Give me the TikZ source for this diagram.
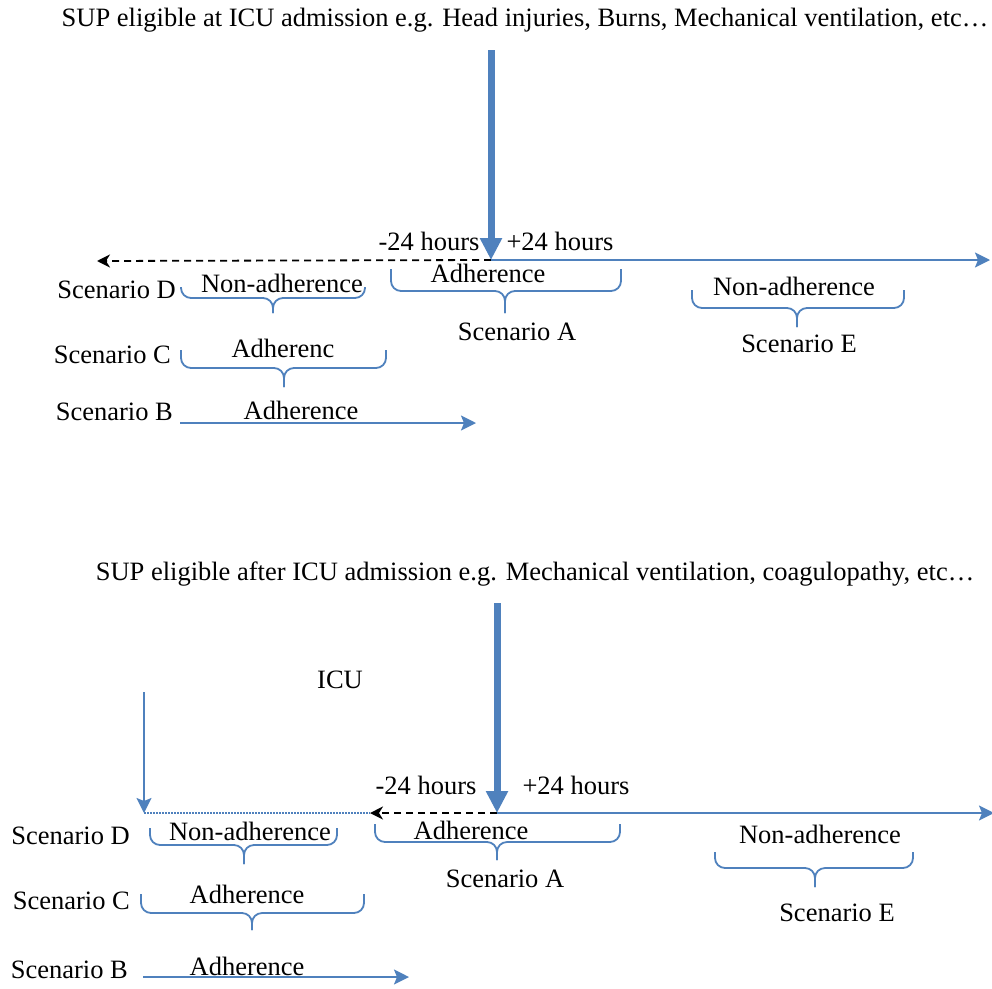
\documentclass[tikz,border=0pt]{standalone}
\usepackage{fontspec}
\setmainfont{Liberation Serif}
\usetikzlibrary{arrows.meta}
\definecolor{ob}{RGB}{79,129,189}
\newcommand\fs{\fontsize{26.5}{30}\selectfont}
\newcommand\obrace[6]{%
  \draw[brc] (#1,#4) -- (#1,#5) -- (#3,#5) -- (#3,#6);
  \draw[brc] (#2,#4) -- (#2,#5) -- (#3,#5) -- (#3,#6);}
\tikzset{
  txt/.style={font=\fs, inner sep=0pt, anchor=base},
  lbl/.style={font=\fs, inner sep=0pt, anchor=base east},
  thick arrow/.style={draw=ob, line width=7pt, -{Triangle[width=21pt,length=22pt]}},
  blue arrow/.style={draw=ob, line width=2pt, -{Stealth[width=15pt,length=15pt,inset=3pt]}},
  dash arrow/.style={draw=black, line width=1.8pt, dash pattern=on 7pt off 5pt, -{Stealth[width=13pt,length=13pt,inset=4pt]}},
  dot line/.style={draw=ob, line width=1.6pt, dash pattern=on 1.5pt off 1.5pt},
  brc/.style={draw=ob, line width=1.8pt, rounded corners=10pt},
}
\begin{document}
\begin{tikzpicture}[x=1pt,y=-1pt]
\useasboundingbox (0,0) rectangle (992,988);
% ---------------- top part ----------------
\node[txt] (t1) at (525,26) {SUP eligible at ICU admission e.g. Head injuries, Burns, Mechanical ventilation, etc…};
\coordinate (a1top) at (491,50);
\coordinate (a1) at (491,260);
\coordinate (a1r) at (990,260);
\coordinate (a1l) at (97,261);
\draw[dash arrow] (a1) -- (a1l);
\draw[blue arrow] (a1) -- (a1r);
\draw[thick arrow] (a1top) -- (a1);
\node[txt] (m24a) at (429,250) {-24 hours};
\node[txt] (p24a) at (560,250) {+24 hours};
% Scenario D
\node[lbl] (sDa) at (176,298) {Scenario D};
\obrace{181}{365}{273}{287}{298}{313}
\node[txt] (nDa) at (282,292) {Non-adherence};
% Scenario A
\obrace{391}{621}{505}{269}{291}{313}
\node[txt] (adA) at (488,282) {Adherence};
\node[txt] (sAa) at (517,340) {Scenario A};
% Scenario E
\obrace{692}{904}{797}{290}{308}{327}
\node[txt] (nEa) at (794,295) {Non-adherence};
\node[txt] (sEa) at (799,352) {Scenario E};
% Scenario C
\node[lbl] (sCa) at (171,363) {Scenario C};
\obrace{181}{386}{284}{350}{368}{387}
\node[txt] (adC) at (283,357) {Adherenc};
% Scenario B
\node[lbl] (sBa) at (173,420) {Scenario B};
\coordinate (bAs) at (180,423);
\coordinate (bAe) at (476,423);
\draw[blue arrow] (bAs) -- (bAe);
\node[txt] (adB) at (301,419) {Adherence};
% ---------------- bottom part ----------------
\node[txt] (t2) at (535,580) {SUP eligible after ICU admission e.g. Mechanical ventilation, coagulopathy, etc…};
\coordinate (a2top) at (497,603);
\coordinate (a2) at (497,813);
\coordinate (a2r) at (994,813);
\coordinate (a2l) at (370,813);
\coordinate (icuTop) at (144,692);
\coordinate (icu) at (144,813);
\node[txt] (icuL) at (340,688) {ICU};
\draw[dot line] (icu) -- (a2l);
\draw[dash arrow] (a2) -- (a2l);
\draw[blue arrow] (a2) -- (a2r);
\draw[thick arrow] (a2top) -- (a2);
\draw[blue arrow] (icuTop) -- (icu);
\node[txt] (m24b) at (426,794) {-24 hours};
\node[txt] (p24b) at (576,794) {+24 hours};
% Scenario D
\node[lbl] (sDb) at (130,844) {Scenario D};
\obrace{150}{337}{244}{828}{845}{864}
\node[txt] (nDb) at (250,840) {Non-adherence};
% Scenario A
\obrace{375}{620}{497}{824}{842}{860}
\node[txt] (adAb) at (471,839) {Adherence};
\node[txt] (sAb) at (505,887) {Scenario A};
% Scenario E
\obrace{715}{913}{815}{852}{868}{887}
\node[txt] (nEb) at (820,843) {Non-adherence};
\node[txt] (sEb) at (837,921) {Scenario E};
% Scenario C
\node[lbl] (sCb) at (130,909) {Scenario C};
\obrace{141}{364}{252}{894}{913}{930}
\node[txt] (adCb) at (247,903) {Adherence};
% Scenario B
\node[lbl] (sBb) at (128,978) {Scenario B};
\coordinate (bBs) at (143,977);
\coordinate (bBe) at (409,977);
\draw[blue arrow] (bBs) -- (bBe);
\node[txt] (adBb) at (247,975) {Adherence};
\end{tikzpicture}
\end{document}
